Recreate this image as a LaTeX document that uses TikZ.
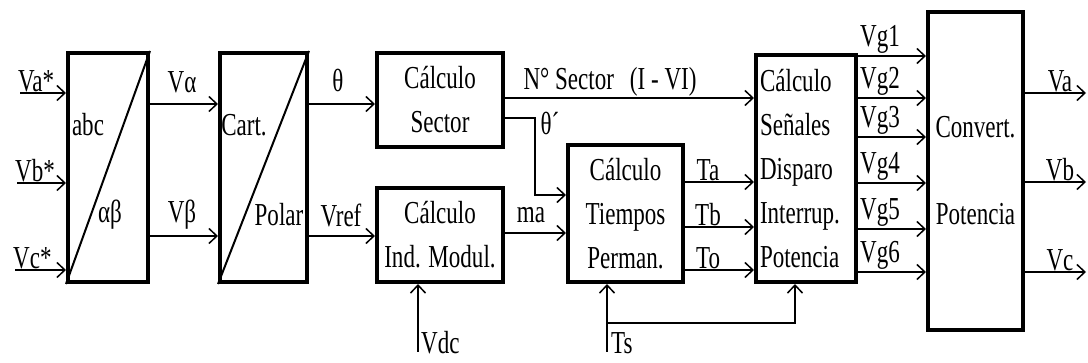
\documentclass[tikz,border=0pt]{standalone}
\usepackage{fontspec}
\setmainfont{Liberation Serif}[FakeStretch=0.72]
\usetikzlibrary{arrows.meta}
\begin{document}
\begin{tikzpicture}[x=1pt,y=-1pt,
    font=\fontsize{32}{44}\selectfont,
    blk/.style={draw,line width=4pt,inner sep=0pt},
    arr/.style={line width=1.5pt,-{Straight Barb[length=8pt,width=15pt,line width=1.5pt]}},
    lbl/.style={inner sep=0pt}]
\useasboundingbox (0,0) rectangle (1088,363);
% blocks
\node[blk,minimum width=80pt,minimum height=229pt] (clarke) at (108,167.5) {};
\node[blk,minimum width=87pt,minimum height=229pt] (polar) at (263.5,167.5) {};
\node[blk,minimum width=126pt,minimum height=94pt,align=center] (sector) at (440,100) {Cálculo\\Sector};
\node[blk,minimum width=126pt,minimum height=94pt,align=center] (modul) at (440,235) {Cálculo\\Ind. Modul.};
\node[blk,minimum width=115pt,minimum height=137pt,align=center] (tiempo) at (625.5,213.5) {Cálculo\\Tiempos\\Perman.};
\node[blk,text width=92pt,inner xsep=4pt,minimum height=227pt,align=left] (senal) at (806,168.5) {Cálculo\\Señales\\Disparo\\Interrup.\\Potencia};
\node[blk,minimum width=95pt,minimum height=318pt,align=center] (conv) at (975.5,171) {Convert.\\[43pt]Potencia};
\draw[line width=2pt] (clarke.south west) -- (clarke.north east);
\draw[line width=2pt] (polar.south west) -- (polar.north east);
\node[lbl] (abc) at (88,125) {abc};
\node[lbl] (ab) at (110,215) {αβ};
\node[lbl] (cart) at (244,125) {Cart.};
\node[lbl] (pol) at (279,215) {Polar};
% inputs
\foreach \x/\y/\t [count=\i] in {20/93/Va*,17/183/Vb*,15/270/Vc*} {
  \coordinate (in\i) at (\x,\y);
  \draw[arr] (in\i) -- (in\i -| clarke.west);
  \node[lbl,anchor=south west] (inl\i) at (\x-2,\y-1) {\t};
}
% signals
\coordinate (ra) at (0,104);
\coordinate (rb) at (0,236);
\coordinate (rn) at (0,98);
\coordinate (rt) at (535,118);
\coordinate (rt2) at (0,195);
\coordinate (rm) at (0,233);
\draw[arr] (clarke.east |- ra) -- (polar.west |- ra);
\draw[arr] (clarke.east |- rb) -- (polar.west |- rb);
\draw[arr] (polar.east |- ra) -- (sector.west |- ra);
\draw[arr] (polar.east |- rb) -- (modul.west |- rb);
\draw[arr] (sector.east |- rn) -- (senal.west |- rn);
\draw[arr] (sector.east |- rt) -- (rt) |- (tiempo.west |- rt2);
\draw[arr] (modul.east |- rm) -- (tiempo.west |- rm);
\node[lbl] (valpha) at (182,82) {Vα};
\node[lbl] (vbeta) at (182,215) {Vβ};
\node[lbl] (theta) at (338,80) {θ};
\node[lbl] (vref) at (341,215) {Vref};
\node[lbl] (nsec) at (610,82) {N° Sector\enspace(I - VI)};
\node[lbl] (thetap) at (550,123) {θ´};
\node[lbl] (ma) at (531,215) {ma};
\foreach \y/\t [count=\i] in {182/Ta,227/Tb,270/To} {
  \draw[arr] (tiempo.east |- 0,\y) -- (senal.west |- 0,\y);
  \node[lbl,anchor=south] (tl\i) at (708,\y-1) {\t};
}
\foreach \y/\t [count=\i] in {56/Vg1,98/Vg2,137/Vg3,183/Vg4,229/Vg5,272/Vg6} {
  \draw[arr] (senal.east |- 0,\y) -- (conv.west |- 0,\y);
  \node[lbl,anchor=south] (vg\i) at (880,\y-2) {\t};
}
\coordinate (out) at (1086,0);
\foreach \y/\t [count=\i] in {93/Va,182/Vb,272/Vc} {
  \draw[arr] (conv.east |- 0,\y) -- (out |- 0,\y);
  \node[lbl,anchor=south] (vo\i) at (1060,\y-1) {\t};
}
% Vdc and Ts
\coordinate (vdc) at (418,352);
\coordinate (ts) at (607,352);
\coordinate (tsb) at (607,323);
\coordinate (tsr) at (795,323);
\draw[arr] (vdc) -- (vdc |- modul.south);
\draw[arr] (ts) -- (ts |- tiempo.south);
\draw[arr] (tsb) -- (tsr) -- (tsr |- senal.south);
\node[lbl,anchor=west] (vdcl) at (421,343) {Vdc};
\node[lbl,anchor=west] (tsl) at (611,343) {Ts};
\end{tikzpicture}
\end{document}
